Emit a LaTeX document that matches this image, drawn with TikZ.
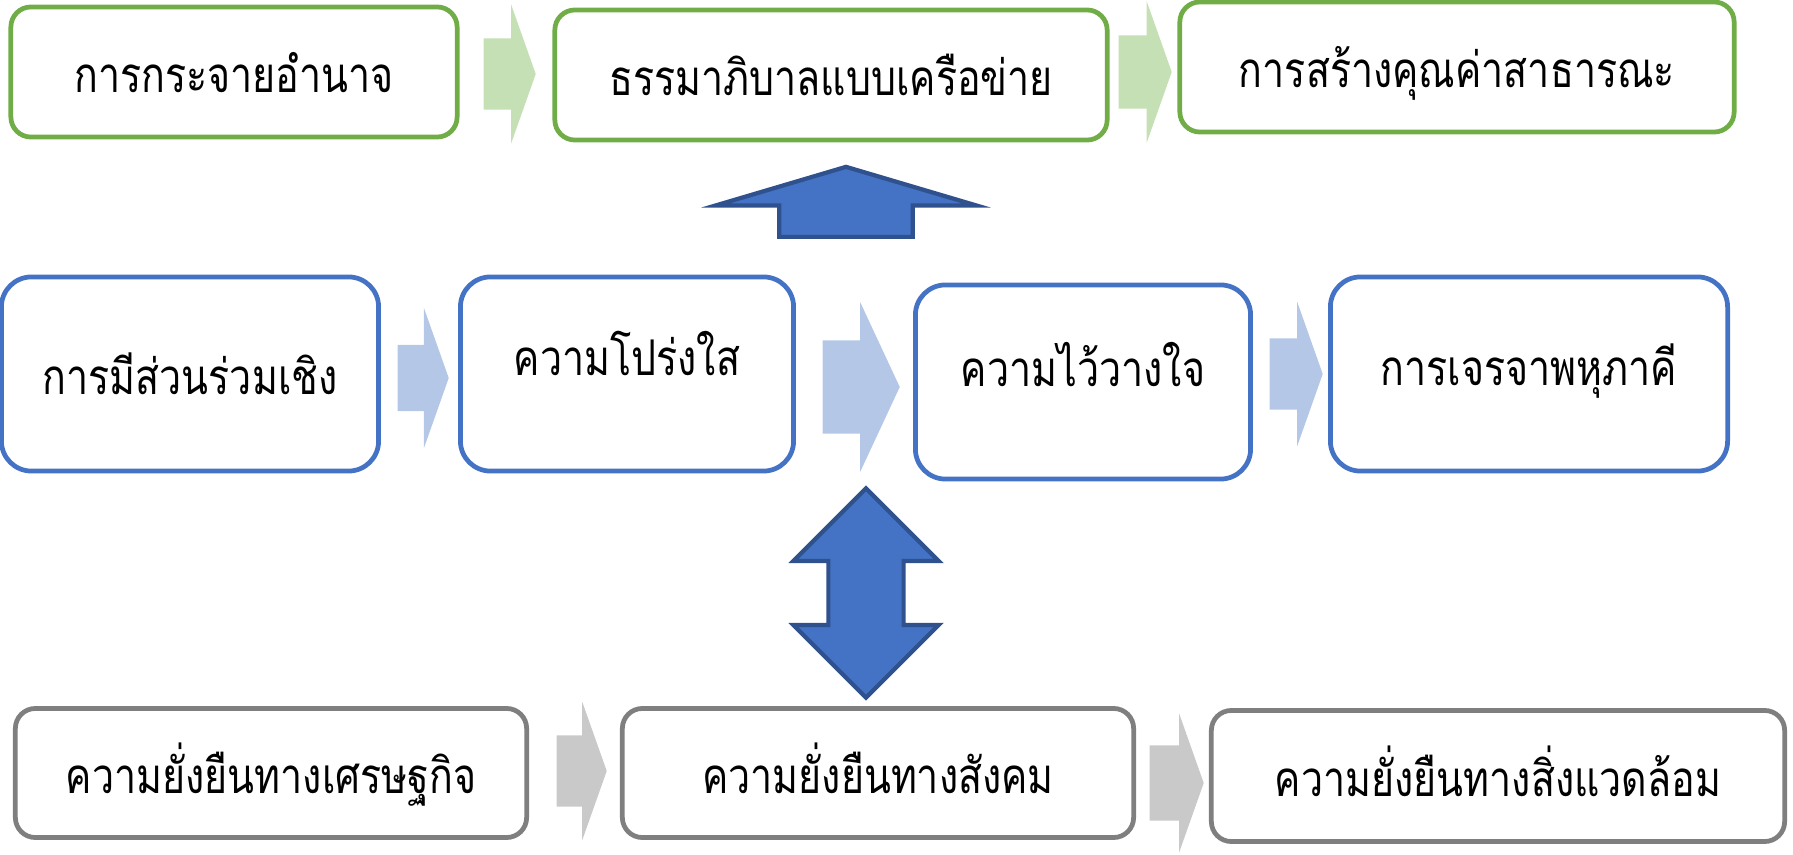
\documentclass[tikz,border=0pt]{standalone}
\usepackage{fontspec}
\usetikzlibrary{shapes.arrows}
\newfontfamily\thaifont[Script=Thai,FakeStretch=0.8]{Loma}
\definecolor{grn}{HTML}{70AD47}
\definecolor{grnlt}{HTML}{C5E0B4}
\definecolor{blu}{HTML}{4472C4}
\definecolor{blult}{HTML}{B4C7E7}
\definecolor{bludk}{HTML}{2F528F}
\definecolor{gry}{HTML}{7F7F7F}
\definecolor{grylt}{HTML}{C9C9C9}

\begin{document}
\begin{tikzpicture}[x=0.01cm,y=-0.01cm,
  box/.style={draw,line width=1.35pt,fill=white,inner sep=0pt,text height=0.5cm,text depth=0.1cm,
    font=\thaifont\fontsize{14}{17}\selectfont},
  gbox/.style={box,draw=grn,rounded corners=0.2cm,minimum height=1.3cm},
  bbox/.style={box,draw=blu,rounded corners=0.3cm,minimum height=1.94cm},
  rbox/.style={box,draw=gry,rounded corners=0.2cm,minimum height=1.29cm},
  flow/.style={single arrow,draw=none,anchor=tail,inner xsep=0pt,inner ysep=0.35cm,
    single arrow tip angle=141,single arrow head extend=0.34cm,minimum height=0.52cm},
  big/.style={fill=blu,draw=bludk,line width=1.2pt,inner xsep=0pt,rotate=90}]
\useasboundingbox (0,0) rectangle (1793,855);

% top row
\node[gbox,minimum width=4.46cm] (g1) at (234,72) {การกระจายอำนาจ};
\node[gbox,minimum width=5.52cm] (g2) at (831,75) {ธรรมาภิบาลแบบเครือข่าย};
\node[gbox,minimum width=5.54cm] (g3) at (1457,67) {การสร้างคุณค่าสาธารณะ};
\node[flow,fill=grnlt] (ga1) at (483,74) {};
\node[flow,fill=grnlt,inner ysep=0.36cm,minimum height=0.53cm] (ga2) at (1118,72) {};

\node[big,single arrow,anchor=tail,single arrow tip angle=147,single arrow head extend=0.635cm,
  inner ysep=0.645cm,minimum height=0.70cm] (up) at (846,239) {};

% middle row
\node[bbox,minimum width=3.77cm] (b1) at (190,374) {การมีส่วนร่วมเชิง};
\node[bbox,minimum width=3.33cm] (b2) at (627,374) {\raisebox{0.18cm}{ความโปร่งใส}};
\node[bbox,minimum width=3.35cm] (b3) at (1083,382) {\raisebox{0.155cm}{ความไว้วางใจ}};
\node[bbox,minimum width=3.97cm] (b4) at (1529,374) {\raisebox{0.085cm}{การเจรจาพหุภาคี}};
\node[flow,fill=blult,inner ysep=0.325cm,single arrow head extend=0.37cm,minimum height=0.51cm] (ba1) at (397,378) {};
\node[flow,fill=blult,single arrow tip angle=130,inner ysep=0.46cm,single arrow head extend=0.38cm,minimum height=0.77cm] (ba2) at (822,387) {};
\node[flow,fill=blult,single arrow head extend=0.365cm,minimum height=0.53cm] (ba3) at (1269,374) {};

\node[big,double arrow,double arrow tip angle=90,double arrow head extend=0.35cm,
  inner ysep=0.355cm,minimum height=2.09cm] (dbl) at (866,593) {};

% bottom row
\node[rbox,minimum width=5.11cm] (r1) at (271,773) {ความยั่งยืนทางเศรษฐกิจ};
\node[rbox,minimum width=5.11cm] (r2) at (878,773) {ความยั่งยืนทางสังคม};
\node[rbox,minimum width=5.73cm,minimum height=1.31cm] (r3) at (1498,776) {ความยั่งยืนทางสิ่งแวดล้อม};
\node[flow,fill=grylt,single arrow head extend=0.335cm,minimum height=0.50cm] (ca1) at (556,771) {};
\node[flow,fill=grylt,inner ysep=0.37cm,single arrow head extend=0.32cm,minimum height=0.54cm] (ca2) at (1149,783) {};
\end{tikzpicture}
\end{document}
